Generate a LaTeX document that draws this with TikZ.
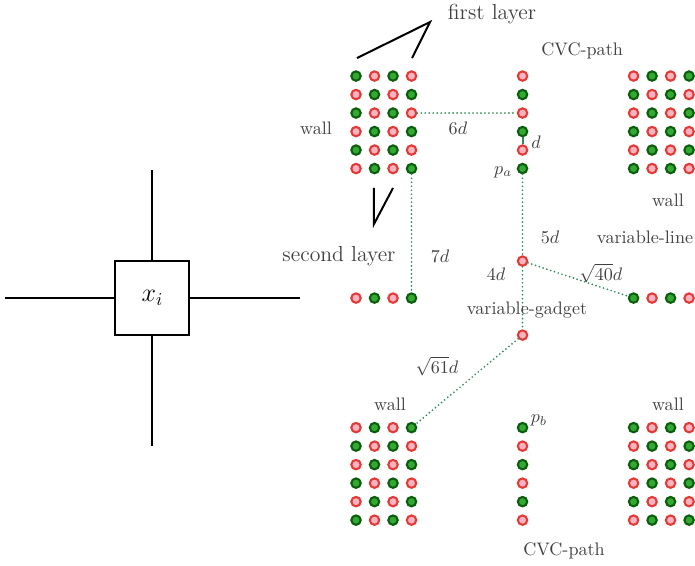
\documentclass[tikz,border=0pt]{standalone}
\begin{document}
\begin{tikzpicture}[x=10.22pt,y=-10.22pt,
  gdot/.style={circle,draw=gstroke,fill=gfill,line width=1.15pt,minimum size=5.2pt,inner sep=0pt},
  rdot/.style={circle,draw=rstroke,fill=rfill,line width=1.15pt,minimum size=5.2pt,inner sep=0pt},
  lab/.style={text=black!75,inner sep=0pt},
  dist/.style={draw=lcol,line width=1.05pt,line cap=round,dash pattern=on 0pt off 2.2pt},
  bracket/.style={draw=black,line width=1.1pt},
  crossline/.style={draw=black,line width=1.1pt}]
\definecolor{gfill}{HTML}{33A833}
\definecolor{gstroke}{HTML}{0B5E0B}
\definecolor{rfill}{HTML}{F8B4C0}
\definecolor{rstroke}{HTML}{E53935}
\definecolor{lcol}{HTML}{2E8B57}
\useasboundingbox (-19.24,-4.11) rectangle (18.32,26.43);
% parity dot macro: green when i+j even
\newcommand{\pdot}[3]{%
  \pgfmathtruncatemacro{\dotparity}{mod(#1+#2,2)}%
  \ifnum\dotparity=0 \node[gdot] (#3) at (#1,#2) {};\else \node[rdot] (#3) at (#1,#2) {};\fi}
% walls
\foreach \i in {0,...,3}{\foreach \j in {0,...,5}{\pdot{\i}{\j}{tl-\i-\j}}}
\foreach \i in {15,...,18}{\foreach \j in {0,...,5}{\pdot{\i}{\j}{tr-\i-\j}}}
\foreach \i in {0,...,3}{\foreach \j in {19,...,24}{\pdot{\i}{\j}{bl-\i-\j}}}
\foreach \i in {15,...,18}{\foreach \j in {19,...,24}{\pdot{\i}{\j}{br-\i-\j}}}
% CVC paths
\foreach \j in {0,...,5}{\pdot{9}{\j}{ct-\j}}
\foreach \j in {19,...,24}{\pdot{9}{\j}{cb-\j}}
% second layer row
\node[rdot] (sl-0) at (0,12) {};
\node[gdot] (sl-1) at (1,12) {};
\node[rdot] (sl-2) at (2,12) {};
\node[gdot] (sl-3) at (3,12) {};
% variable line
\node[gdot] (vl-0) at (15,12) {};
\node[rdot] (vl-1) at (16,12) {};
\node[gdot] (vl-2) at (17,12) {};
\node[rdot] (vl-3) at (18,12) {};
% variable gadget points
\node[rdot] (vg-a) at (9,10) {};
\node[rdot] (vg-b) at (9,14) {};
% connectors
\draw[dist] (tl-3-2) -- (ct-2);
\draw[dist] (tl-3-5) -- (sl-3);
\draw[draw=lcol,line width=1.1pt] (ct-3) -- (ct-4);
\draw[dist] (ct-5) -- (vg-a);
\draw[dist] (vg-a) -- (vg-b);
\draw[dist] (vg-a) -- (vl-0);
\draw[dist] (vg-b) -- (bl-3-19);
% brackets
\coordinate (fl1) at (0.05,-0.97);
\coordinate (fl2) at (4,-2.92);
\coordinate (fl3) at (3.03,-0.97);
\draw[bracket] (fl1) -- (fl2) -- (fl3);
\coordinate (sb1) at (0.97,6.05);
\coordinate (sb2) at (0.97,8);
\coordinate (sb3) at (2,6.05);
\draw[bracket] (sb1) -- (sb2) -- (sb3);
% labels
\node[lab,font=\large] (t-first) at (7.35,-3.35) {first layer};
\node[lab,font=\large] (t-second) at (-0.92,9.73) {second layer};
\node[lab] (t-cvc1) at (12.22,-1.35) {CVC-path};
\node[lab] (t-cvc2) at (11.24,25.68) {CVC-path};
\node[lab] (t-wall1) at (-2.16,2.81) {wall};
\node[lab] (t-wall2) at (16.86,6.7) {wall};
\node[lab] (t-wall3) at (1.84,17.73) {wall};
\node[lab] (t-wall4) at (16.86,17.73) {wall};
\node[lab] (t-6d) at (5.51,2.81) {$6d$};
\node[lab] (t-d) at (9.73,3.57) {$d$};
\node[lab] (t-pa) at (7.95,5.19) {$p_a$};
\node[lab] (t-pb) at (9.89,18.6) {$p_b$};
\node[lab] (t-7d) at (4.54,9.73) {$7d$};
\node[lab] (t-5d) at (10.49,8.7) {$5d$};
\node[lab] (t-4d) at (7.57,10.7) {$4d$};
\node[lab] (t-vl) at (15.62,8.7) {variable-line};
\node[lab] (t-vg) at (9.24,12.65) {variable-gadget};
\node[lab] (t-s40) at (13.24,10.65) {$\sqrt{40}d$};
\node[lab] (t-s61) at (4.38,15.68) {$\sqrt{61}d$};
% variable box with four lines
\node[draw=black,line width=1.1pt,minimum size=40.9pt,inner sep=0pt,font=\Large] (xi) at (-11,12) {$x_i$};
\coordinate (xt) at (-11,5.08);
\coordinate (xb) at (-11,20);
\coordinate (xl) at (-18.97,12);
\coordinate (xr) at (-3.03,12);
\draw[crossline] (xi.north) -- (xt);
\draw[crossline] (xi.south) -- (xb);
\draw[crossline] (xi.west) -- (xl);
\draw[crossline] (xi.east) -- (xr);
\end{tikzpicture}
\end{document}
